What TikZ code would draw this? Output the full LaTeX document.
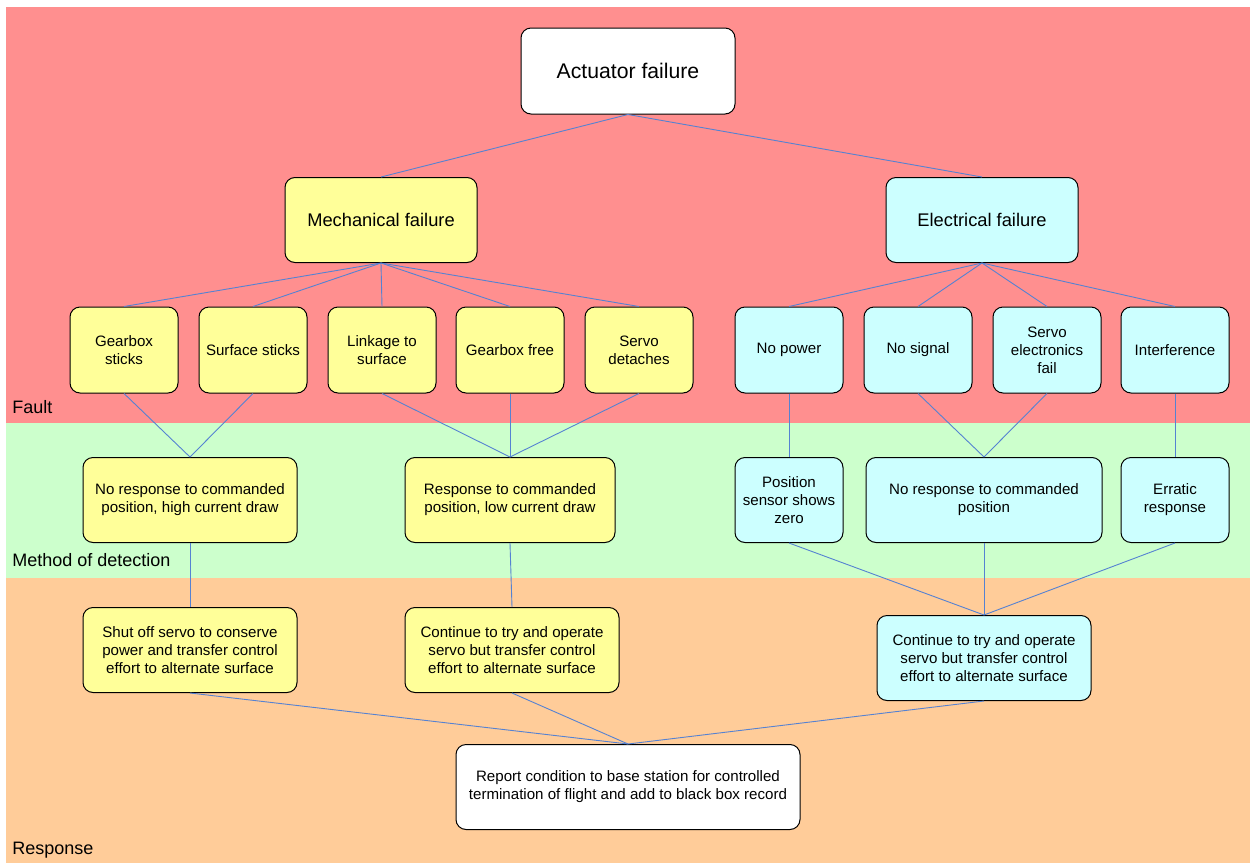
\documentclass[tikz,border=0pt]{standalone}
\usepackage{fontspec}
\setmainfont{Liberation Sans}
\usetikzlibrary{calc}
\definecolor{faultbg}{RGB}{255,143,143}
\definecolor{detectbg}{RGB}{204,255,204}
\definecolor{responsebg}{RGB}{255,204,153}
\definecolor{mechfill}{RGB}{255,255,153}
\definecolor{elecfill}{RGB}{204,255,255}
\definecolor{linkblue}{RGB}{85,130,210}
\tikzset{
  box/.style={draw, line width=0.5pt, rounded corners=5pt, align=center,
    inner sep=2pt, font={\fontsize{7.55}{9}\selectfont}},
  mech/.style={box, fill=mechfill},
  elec/.style={box, fill=elecfill},
  plain/.style={box, fill=white},
  small/.style={minimum width=54pt, minimum height=43pt},
  wide/.style={minimum width=107pt, minimum height=42.5pt},
  link/.style={draw=linkblue, line width=0.45pt},
  bandlabel/.style={anchor=base west, inner sep=0pt, font={\fontsize{9}{10}\selectfont}},
}
\begin{document}
\begin{tikzpicture}[x=0.5pt, y=-0.5pt]
    \useasboundingbox (0,0) rectangle (1250,863);

    % background bands
    \fill [faultbg] (6,7) rectangle (1250,423);
    \fill [detectbg] (6,423) rectangle (1250,578);
    \fill [responsebg] (6,578) rectangle (1250,863);
    \node [bandlabel] (lfault) at (12,413) {Fault};
    \node [bandlabel] (ldetect) at (12,566) {Method of detection};
    \node [bandlabel] (lresponse) at (12,854) {Response};

    % fault
    \node [plain, minimum width=107pt, minimum height=43pt,
    font={\fontsize{10.6}{12}\selectfont}] (actuator) at (628,71) {Actuator failure};
    \node [mech, minimum width=96pt, minimum height=42.5pt,
    font={\fontsize{9.15}{10}\selectfont}] (mechanical) at (381,220) {Mechanical failure};
    \node [elec, minimum width=96pt, minimum height=42.5pt,
    font={\fontsize{9.15}{10}\selectfont}] (electrical) at (982,220) {Electrical failure};

    \node [mech, small] (gbsticks) at (124,350) {Gearbox\\sticks};
    \node [mech, small] (sfsticks) at (253,350) {Surface sticks};
    \node [mech, small] (linkage) at (382,350) {Linkage to\\surface};
    \node [mech, small] (gbfree) at (510,350) {Gearbox free};
    \node [mech, small] (detaches) at (639,350) {Servo\\detaches};
    \node [elec, small] (nopower) at (789,350) {No power};
    \node [elec, small] (nosignal) at (918,350) {No signal};
    \node [elec, small] (electronics) at (1047,350) {Servo\\electronics\\fail};
    \node [elec, small] (interference) at (1175,350) {Interference};

    % method of detection
    \node [mech, wide] (highcurrent) at (190,500) {No response to commanded\\position, high current draw};
    \node [mech, minimum width=105pt, minimum height=42.5pt] (lowcurrent) at (510,500)
    {Response to commanded\\position, low current draw};
    \node [elec, small, minimum height=42.5pt] (sensorzero) at (789,500) {Position\\sensor shows\\zero};
    \node [elec, minimum width=118pt, minimum height=42.5pt] (noresponse) at (984,500)
    {No response to commanded\\position};
    \node [elec, small, minimum height=42.5pt] (erratic) at (1175,500) {Erratic\\response};

    % response
    \node [mech, wide] (shutoff) at (190,650)
    {Shut off servo to conserve\\power and transfer control\\effort to alternate surface};
    \node [mech, wide] (continuemech) at (512,650)
    {Continue to try and operate\\servo but transfer control\\effort to alternate surface};
    \node [elec, wide] (continueelec) at (984,658)
    {Continue to try and operate\\servo but transfer control\\effort to alternate surface};
    \node [plain, minimum width=172pt, minimum height=42.5pt] (report) at (628,787)
    {Report condition to base station for controlled\\termination of flight and add to black box record};

    % connectors
    \foreach \n in {mechanical,electrical}
      \path [link] (actuator.south) -- (\n.north);
    \foreach \n in {gbsticks,sfsticks,linkage,gbfree,detaches}
      \path [link] (mechanical.south) -- (\n.north);
    \foreach \n in {nopower,nosignal,electronics,interference}
      \path [link] (electrical.south) -- (\n.north);
    \foreach \n in {gbsticks,sfsticks}
      \path [link] (\n.south) -- (highcurrent.north);
    \foreach \n in {linkage,gbfree,detaches}
      \path [link] (\n.south) -- (lowcurrent.north);
    \path [link] (nopower.south) -- (sensorzero.north);
    \foreach \n in {nosignal,electronics}
      \path [link] (\n.south) -- (noresponse.north);
    \path [link] (interference.south) -- (erratic.north);
    \path [link] (highcurrent.south) -- (shutoff.north);
    \path [link] (lowcurrent.south) -- (continuemech.north);
    \foreach \n in {sensorzero,noresponse,erratic}
      \path [link] (\n.south) -- (continueelec.north);
    \foreach \n in {shutoff,continuemech,continueelec}
      \path [link] (\n.south) -- (report.north);

\end{tikzpicture}
\end{document}
